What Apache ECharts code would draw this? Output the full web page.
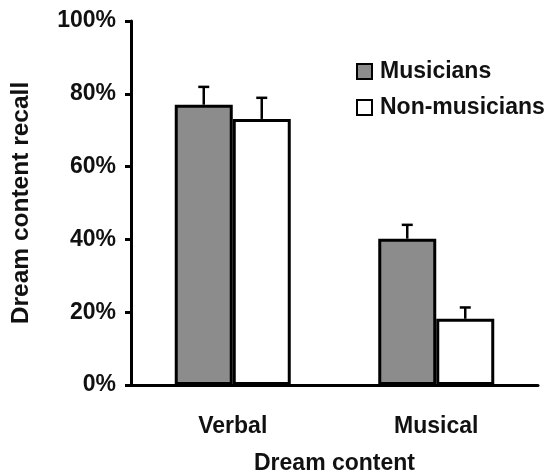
<!DOCTYPE html>
<html>
<head>
<meta charset="utf-8">
<script src="https://cdn.jsdelivr.net/npm/echarts@6/dist/echarts.min.js"></script>
<style>
  html, body { margin: 0; padding: 0; background: #fff; }
  #chart { width: 552px; height: 472px; }
</style>
</head>
<body>
<div id="chart"></div>
<script>
// data (percent)
const categories = ['Verbal', 'Musical'];
const musicians = [77.0, 40.2];
const musiciansErr = [81.9, 44.0];
const nonMusicians = [73.1, 18.2];
const nonMusiciansErr = [78.9, 21.3];
const yTicks = [0, 20, 40, 60, 80, 100];

const chart = echarts.init(document.getElementById('chart'));
const font = 'Liberation Sans, Arial, sans-serif';
const BAR_W = 58;

// upward-only error bar with a small cap
function errorBar(offset) {
  return function (params, api) {
    const base = api.coord([api.value(0), api.value(1)]);
    const top = api.coord([api.value(0), api.value(2)]);
    const x = base[0] + offset;
    const style = { stroke: '#000', lineWidth: 2.5 };
    return {
      type: 'group',
      children: [
        { type: 'line', shape: { x1: x, y1: base[1], x2: x, y2: top[1] }, style: style },
        { type: 'line', shape: { x1: x - 5.5, y1: top[1], x2: x + 5.5, y2: top[1] }, style: style }
      ]
    };
  };
}

chart.setOption({
  backgroundColor: '#fff',
  animation: false,
  textStyle: { fontFamily: font },
  grid: { left: 131, right: 14, top: 21, bottom: 87, outerBoundsMode: 'none' },
  legend: {
    orient: 'vertical',
    left: 356,
    top: 60,
    padding: 0,
    itemWidth: 15,
    itemHeight: 15,
    itemGap: 13,
    textStyle: { fontSize: 23, fontWeight: 'bold', color: '#111', padding: [0, 0, 0, 3] },
    data: [
      { name: 'Musicians', icon: 'rect', itemStyle: { color: '#8c8c8c', borderColor: '#000', borderWidth: 2 } },
      { name: 'Non-musicians', icon: 'rect', itemStyle: { color: '#fff', borderColor: '#000', borderWidth: 2 } }
    ]
  },
  xAxis: {
    type: 'category',
    data: categories,
    name: 'Dream content',
    nameLocation: 'middle',
    nameGap: 67,
    nameTextStyle: { fontSize: 23, fontWeight: 'bold', color: '#111' },
    axisLine: { lineStyle: { color: '#000', width: 3 } },
    axisTick: { length: 7, lineStyle: { color: '#000', width: 3 } },
    axisLabel: { margin: 30, fontSize: 23, fontWeight: 'bold', color: '#111' }
  },
  yAxis: {
    type: 'value',
    min: 0,
    max: 100,
    interval: 20,
    name: 'Dream content recall',
    nameLocation: 'middle',
    nameGap: 97,
    nameTextStyle: { fontSize: 24.5, fontWeight: 'bold', color: '#111' },
    splitLine: { show: false },
    axisLine: { show: true, lineStyle: { color: '#000', width: 3 } },
    axisTick: { show: true, length: 6, lineStyle: { color: '#000', width: 3 } },
    axisLabel: {
      margin: 15, fontSize: 23, fontWeight: 'bold', color: '#111',
      formatter: function (v) { return yTicks.indexOf(v) >= 0 ? v + '%' : ''; }
    }
  },
  series: [
    {
      name: 'Musicians',
      type: 'bar',
      data: musicians,
      barWidth: BAR_W,
      barGap: '0%',
      itemStyle: { color: '#8c8c8c', borderColor: '#000', borderWidth: 3 },
      z: 2
    },
    {
      name: 'Non-musicians',
      type: 'bar',
      data: nonMusicians,
      barWidth: BAR_W,
      barGap: '0%',
      itemStyle: { color: '#fff', borderColor: '#000', borderWidth: 3 },
      z: 2
    },
    {
      type: 'custom',
      name: 'musErr',
      renderItem: errorBar(-BAR_W / 2),
      data: categories.map((c, i) => [i, musicians[i], musiciansErr[i]]),
      z: 1
    },
    {
      type: 'custom',
      name: 'nonErr',
      renderItem: errorBar(BAR_W / 2),
      data: categories.map((c, i) => [i, nonMusicians[i], nonMusiciansErr[i]]),
      z: 1
    }
  ]
});
</script>
</body>
</html>
